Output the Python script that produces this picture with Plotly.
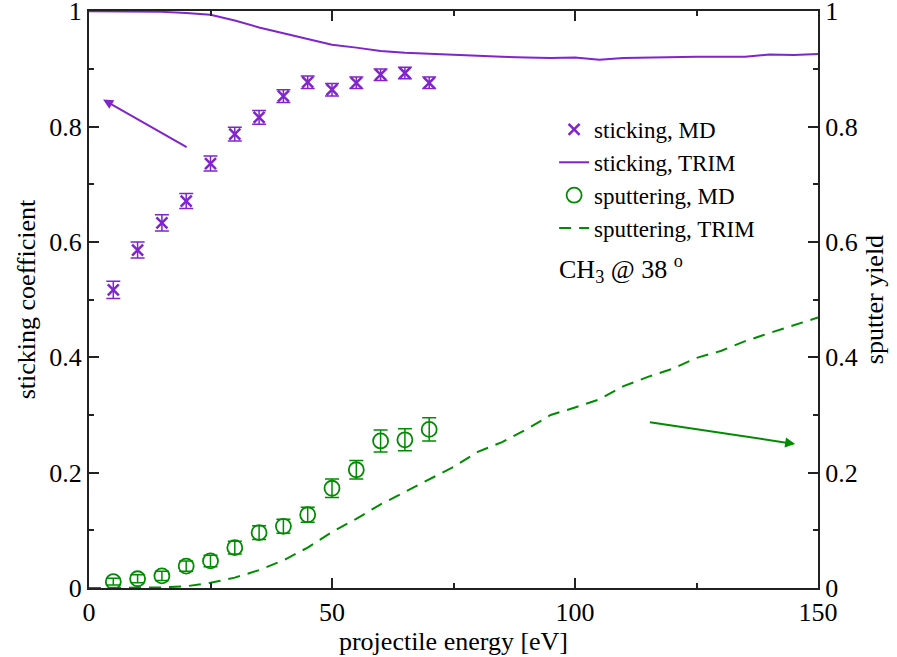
import plotly.graph_objects as go

# ---- data ----
md_energy = [5, 10, 15, 20, 25, 30, 35, 40, 45, 50, 55, 60, 65, 70]
stick_md = [0.517, 0.586, 0.633, 0.671, 0.736, 0.787, 0.816, 0.853, 0.877, 0.864, 0.876, 0.890, 0.893, 0.876]
stick_md_err = [0.015, 0.014, 0.014, 0.013, 0.013, 0.012, 0.012, 0.011, 0.011, 0.011, 0.010, 0.010, 0.010, 0.010]
sput_md = [0.011, 0.016, 0.021, 0.038, 0.047, 0.070, 0.096, 0.107, 0.127, 0.173, 0.205, 0.255, 0.257, 0.275]
sput_md_err = [0.006, 0.007, 0.008, 0.009, 0.010, 0.011, 0.012, 0.012, 0.013, 0.016, 0.016, 0.019, 0.019, 0.020]

trim_energy = [0, 5, 10, 15, 20, 25, 30, 35, 40, 45, 50, 55, 60, 65, 70, 75, 80, 85, 90, 95,
               100, 105, 110, 115, 120, 125, 130, 135, 140, 145, 150]
stick_trim = [1.0, 1.0, 1.0, 0.999, 0.997, 0.994, 0.984, 0.972, 0.962, 0.952, 0.942, 0.937, 0.931, 0.928,
              0.926, 0.924, 0.922, 0.921, 0.920, 0.919, 0.920, 0.916, 0.919, 0.920, 0.921, 0.921, 0.921,
              0.921, 0.925, 0.924, 0.926]
sput_trim = [0.0, 0.0, 0.0, 0.001, 0.003, 0.009, 0.018, 0.031, 0.048, 0.070, 0.097, 0.120, 0.145, 0.167,
             0.188, 0.210, 0.236, 0.253, 0.275, 0.300, 0.313, 0.327, 0.350, 0.366, 0.380, 0.399, 0.411,
             0.428, 0.442, 0.456, 0.469]

x_ticks = [0, 50, 100, 150]
y_ticks = [0, 0.2, 0.4, 0.6, 0.8, 1]
y_ticklabels = ["0", "0.2", "0.4", "0.6", "0.8", "1"]

PURPLE = "rgb(128,36,204)"
GREEN = "rgb(0,140,0)"
FONT = "Liberation Serif, Times New Roman, serif"
FS = 26
LFS = 23

fig = go.Figure()
fig.add_trace(go.Scatter(
    x=md_energy, y=stick_md, mode="markers", name="sticking, MD",
    marker=dict(symbol="x-thin-open", size=11, color=PURPLE, line=dict(color=PURPLE, width=2.5)),
    error_y=dict(type="data", array=stick_md_err, color=PURPLE, thickness=1.5, width=7),
    legendgroup="a"))
fig.add_trace(go.Scatter(
    x=trim_energy, y=stick_trim, mode="lines", name="sticking, TRIM",
    line=dict(color=PURPLE, width=2), legendgroup="b"))
fig.add_trace(go.Scatter(
    x=md_energy, y=sput_md, mode="markers", name="sputtering, MD",
    marker=dict(symbol="circle-open", size=15, color=GREEN, line=dict(color=GREEN, width=1.8)),
    error_y=dict(type="data", array=sput_md_err, color=GREEN, thickness=1.5, width=7),
    legendgroup="c"))
fig.add_trace(go.Scatter(
    x=trim_energy, y=sput_trim, mode="lines", name="sputtering, TRIM", yaxis="y2",
    line=dict(color=GREEN, width=2, dash="12px,8px"), legendgroup="d"))

axis_common = dict(
    showline=True, linecolor="#222", linewidth=2, ticks="inside", ticklen=10, tickwidth=1.5,
    tickcolor="#222", showgrid=False, zeroline=False, automargin=False, ticklabeloverflow="allow",
    tickfont=dict(family=FONT, size=FS, color="black"),
)

fig.update_layout(
    width=897, height=657,
    margin=dict(l=89, r=79, t=11, b=69),
    paper_bgcolor="white", plot_bgcolor="white",
    font=dict(family=FONT, size=FS, color="black"),
    xaxis=dict(range=[0, 150], tickvals=x_ticks, mirror="ticks",
               minor=dict(dtick=25, ticks="inside", ticklen=5, tickcolor="#222"),
               title=dict(text="projectile energy [eV]", font=dict(family=FONT, size=FS), standoff=0),
               **axis_common),
    yaxis=dict(range=[0, 1.0005], tickvals=y_ticks, ticktext=y_ticklabels,
               minor=dict(dtick=0.1, ticks="inside", ticklen=5, tickcolor="#222"),
               title=dict(text="sticking coefficient", font=dict(family=FONT, size=FS), standoff=6),
               **axis_common),
    yaxis2=dict(range=[0, 1.0005], tickvals=y_ticks, ticktext=y_ticklabels, overlaying="y", side="right",
                minor=dict(dtick=0.1, ticks="inside", ticklen=5, tickcolor="#222"),
                title=dict(text="sputter yield", font=dict(family=FONT, size=FS), standoff=8),
                **axis_common),
    showlegend=True,
    legend=dict(x=0.638, y=0.832, xanchor="left", yanchor="top", bgcolor="rgba(0,0,0,0)",
                font=dict(family=FONT, size=LFS), itemwidth=30, tracegroupgap=0),
)

fig.add_annotation(x=96.3, y=0.553, xref="x", yref="y", xanchor="left", yanchor="middle",
                   text="CH<sub>3</sub> @ 38 <sup>o</sup>", showarrow=False,
                   font=dict(family=FONT, size=FS, color="black"))

fig.add_annotation(x=2.9, y=0.847, ax=20.4, ay=0.763, xref="x", yref="y", axref="x", ayref="y",
                   text="", showarrow=True, arrowhead=2, arrowsize=1, arrowwidth=2, arrowcolor=PURPLE)
fig.add_annotation(x=145.3, y=0.2496, ax=115.1, ay=0.288, xref="x", yref="y", axref="x", ayref="y",
                   text="", showarrow=True, arrowhead=2, arrowsize=1, arrowwidth=2, arrowcolor=GREEN)

fig.write_html("out.html")
